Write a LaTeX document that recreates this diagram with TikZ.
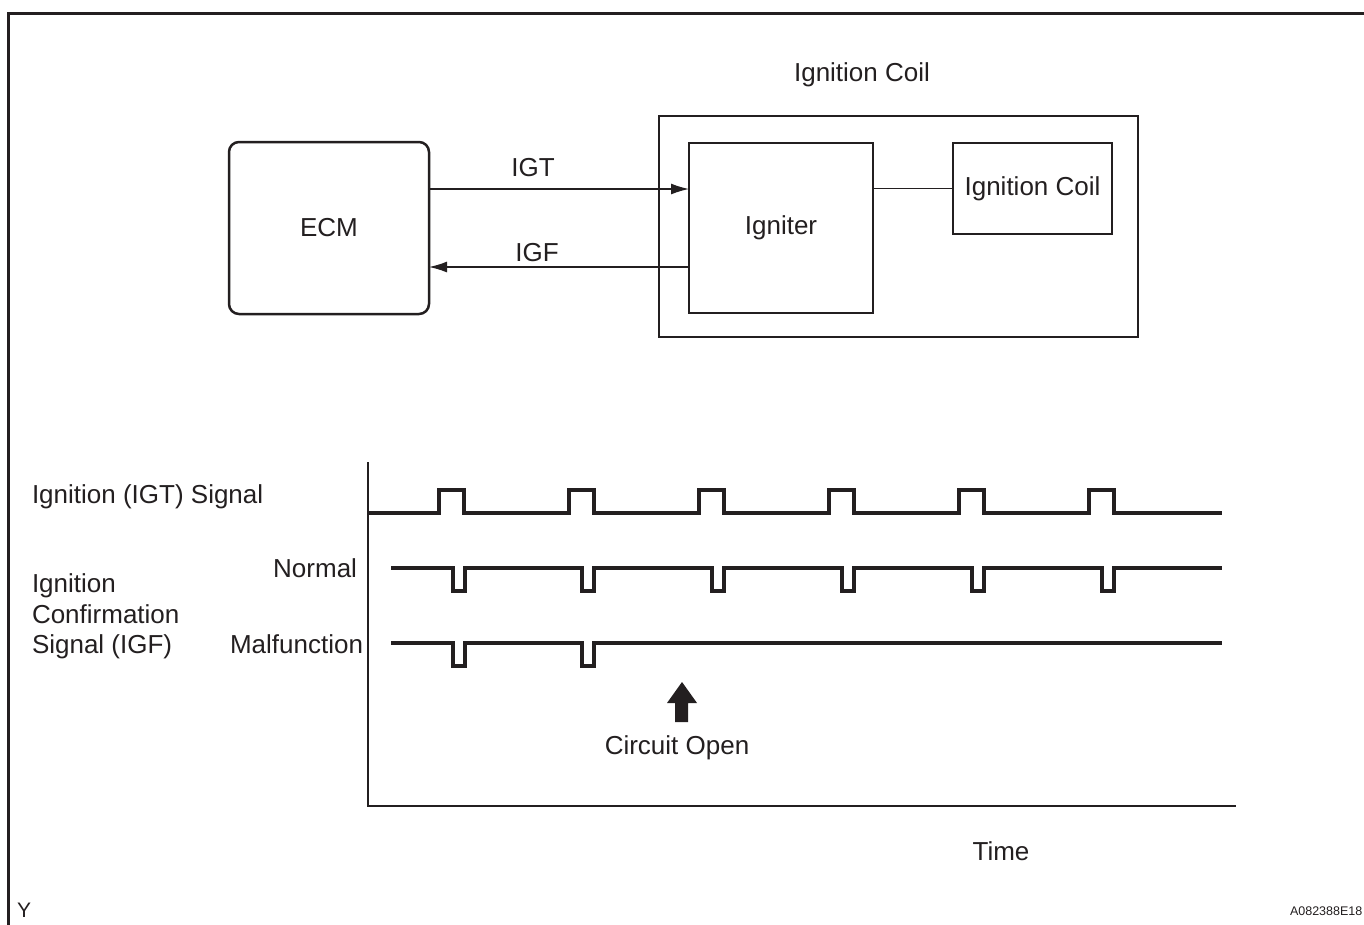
\documentclass[tikz,border=0pt]{standalone}
\usepackage{fontspec}
\setmainfont{Liberation Sans}
\usetikzlibrary{arrows.meta}
\definecolor{ink}{RGB}{35,31,32}
\begin{document}
\begin{tikzpicture}[x=1pt,y=-1pt,
  every node/.style={text=ink,inner sep=0pt,outer sep=0pt},
  lbl/.style={font=\fontsize{26}{31}\selectfont},
  box/.style={draw=ink,line width=2.5pt,font=\fontsize{26}{31}\selectfont},
  arr/.style={draw=ink,line width=1.3pt,-{Latex[length=18pt,width=11pt]}},
  wire/.style={draw=ink,line width=1.3pt},
  sig/.style={draw=ink,line width=3.2pt},
  axisline/.style={draw=ink,line width=1.5pt}]
\useasboundingbox (0,0) rectangle (1364,924);
% outer frame
\draw[ink,line width=3pt] (8,930) -- (8,13) -- (1370,13);
% blocks
\node[box,rounded corners=10pt,minimum width=200pt,minimum height=172pt] (ecm) at (329,228) {ECM};
\node[box,minimum width=479pt,minimum height=221pt] (unit) at (898.5,226.5) {};
\node[box,minimum width=184pt,minimum height=170pt] (igniter) at (781,228) {Igniter};
\node[box,minimum width=159pt,minimum height=91pt] (coil) at (1032.5,188.5) {Ignition Coil};
\node[lbl,anchor=base] (unitlbl) at (862,81) {Ignition Coil};
% connectors
\draw[arr] ([yshift=39pt]ecm.east) -- ([yshift=39pt]ecm.east -| igniter.west);
\draw[arr] ([yshift=-39pt]ecm.east -| igniter.west) -- ([yshift=-39pt]ecm.east);
\draw[wire] (coil.west -| igniter.east) -- (coil.west);
\node[lbl,anchor=base] (igt) at (533,176.5) {IGT};
\node[lbl,anchor=base] (igf) at (537,261) {IGF};
% timing chart labels
\node[lbl,anchor=base west] (igtsig) at (32,503) {Ignition (IGT) Signal};
\node[lbl,anchor=base west] (igf1) at (32,592) {Ignition};
\node[lbl,anchor=base west] (igf2) at (32,623) {Confirmation};
\node[lbl,anchor=base west] (igf3) at (32,653) {Signal (IGF)};
\node[lbl,anchor=base east] (normal) at (357,577) {Normal};
\node[lbl,anchor=base east] (malf) at (363,653) {Malfunction};
% axes
\draw[axisline] (368,462) -- (368,806) -- (1236,806);
% IGT signal
\draw[sig] (368,513) foreach \x in {439,569,699,829,959,1089} { -- (\x,513) -- (\x,490) -- (\x+25,490) -- (\x+25,513) } -- (1222,513);
% Normal IGF
\draw[sig] (391,568) foreach \x in {453,582,712,842,972,1102} { -- (\x,568) -- (\x,591) -- (\x+12,591) -- (\x+12,568) } -- (1222,568);
% Malfunction IGF
\draw[sig] (391,643) foreach \x in {453,582} { -- (\x,643) -- (\x,666) -- (\x+12,666) -- (\x+12,643) } -- (1222,643);
% circuit open arrow
\fill[ink] (682,682) -- (697,703) -- (688,703) -- (688,722) -- (675,722) -- (675,703) -- (667,703) -- cycle;
\node[lbl,anchor=base] (open) at (677,754.5) {Circuit Open};
\node[lbl,anchor=base] (time) at (1001,860) {Time};
\node[anchor=base west,font=\fontsize{21}{25}\selectfont] (ymark) at (17,917) {Y};
\node[anchor=base west,font=\fontsize{12.5}{15}\selectfont] (code) at (1290,915) {A082388E18};
\end{tikzpicture}
\end{document}
